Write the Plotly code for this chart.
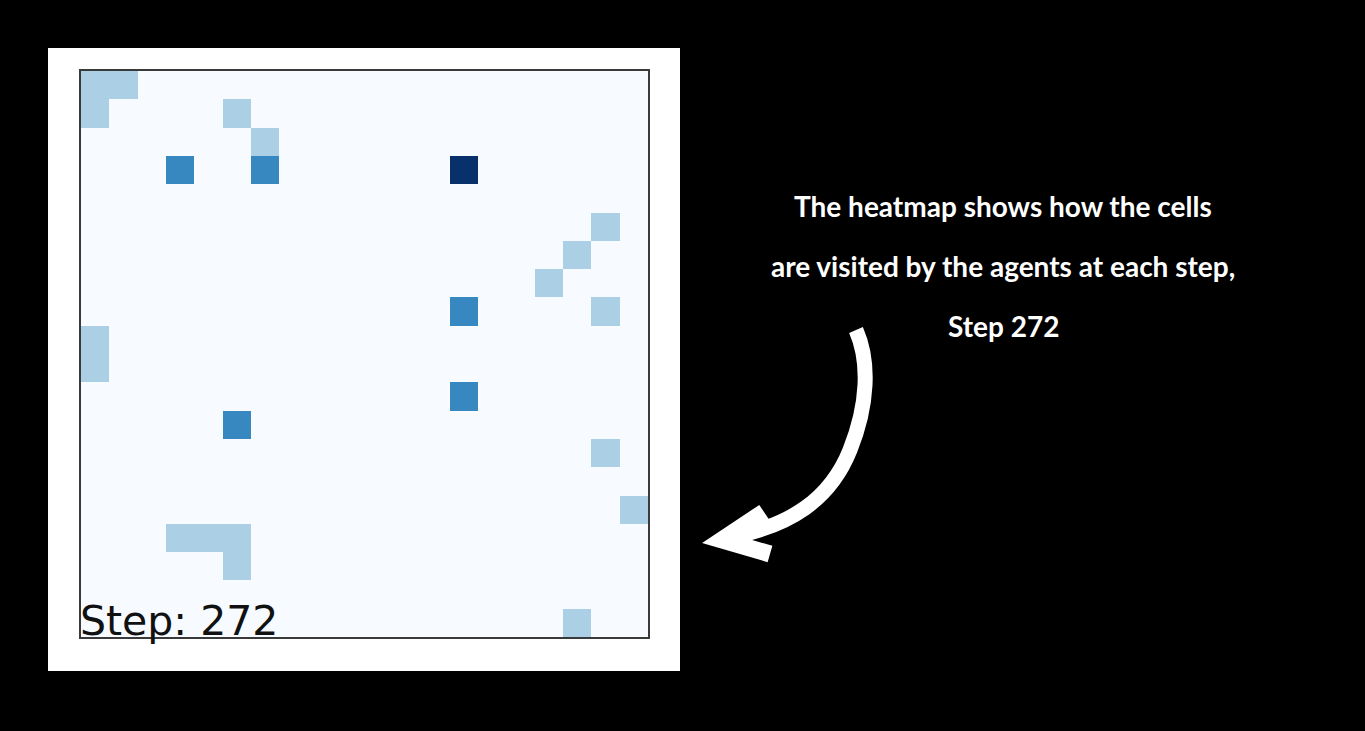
import plotly.graph_objects as go

W, H = 1365, 731
N = 20
step_label = "Step: 272"

# occupied cells (row, col) and their counts
light_cells = [(0, 0), (0, 1), (1, 0), (1, 5), (2, 6), (5, 18), (6, 17), (7, 16),
               (8, 18), (9, 0), (10, 0), (13, 18), (15, 19), (16, 3), (16, 4),
               (16, 5), (17, 5), (19, 17)]
medium_cells = [(3, 3), (3, 6), (8, 13), (11, 13), (12, 5)]
dark_cells = [(3, 13)]
light_value, medium_value, dark_value = 1, 2, 3

note_lines = ["The heatmap shows how the cells",
              "are visited by the agents at each step,",
              "Step 272"]

z = [[0] * N for _ in range(N)]
for r, c in light_cells:
    z[r][c] = light_value
for r, c in medium_cells:
    z[r][c] = medium_value
for r, c in dark_cells:
    z[r][c] = dark_value

def px(x):
    return x / W

def py(y):
    return 1 - y / H

colorscale = [[0, '#f7fbff'], [1 / 3, '#abd0e6'], [2 / 3, '#3787c0'], [1, '#08306b']]

fig = go.Figure(go.Heatmap(z=z, zmin=0, zmax=3, colorscale=colorscale,
                           showscale=False, hoverinfo='skip'))

fig.update_layout(
    width=W, height=H,
    margin=dict(l=0, r=0, t=0, b=0),
    paper_bgcolor='black', plot_bgcolor='#f7fbff',
    showlegend=False,
    xaxis=dict(domain=[px(81), px(648)], range=[-0.5, N - 0.5], showticklabels=False,
               ticks='', showgrid=False, zeroline=False, showline=True, mirror=True,
               linecolor='#3a3a3a', linewidth=1.5),
    yaxis=dict(domain=[py(637), py(71)], range=[N - 0.5, -0.5], showticklabels=False,
               ticks='', showgrid=False, zeroline=False, showline=True, mirror=True,
               linecolor='#3a3a3a', linewidth=1.5),
)

# white panel behind the chart
fig.add_shape(type='rect', xref='paper', yref='paper', x0=px(48), x1=px(680),
              y0=py(671), y1=py(48), fillcolor='white', line=dict(width=0), layer='below')

# step label
fig.add_annotation(text=step_label, xref='x', yref='y', x=-0.5, y=N - 0.5,
                   xanchor='left', yanchor='bottom', showarrow=False, yshift=-10, xshift=-3,
                   font=dict(family='DejaVu Sans', size=41, color='#111111'))

# note text
for i, line in enumerate(note_lines):
    fig.add_annotation(text=line, xref='paper', yref='paper', x=px(1003), y=py(206 + 60 * i),
                       xanchor='center', yanchor='middle', showarrow=False,
                       font=dict(family='Lato', size=28, color='white', weight='bold'))

# hand-drawn arrow
def pt(x, y):
    return f"{px(x)},{py(y)}"

shaft = (f"M {pt(856, 330)} C {pt(870, 362)} {pt(868, 405)} {pt(850, 450)} "
         f"C {pt(830, 500)} {pt(790, 526)} {pt(728, 538)}")
fig.add_shape(type='path', xref='paper', yref='paper', path=shaft,
              line=dict(color='white', width=15))
head = f"M {pt(764, 512)} L {pt(722, 540)} L {pt(770, 554)}"
fig.add_shape(type='path', xref='paper', yref='paper', path=head,
              line=dict(color='white', width=17))

fig.write_html("out.html")
